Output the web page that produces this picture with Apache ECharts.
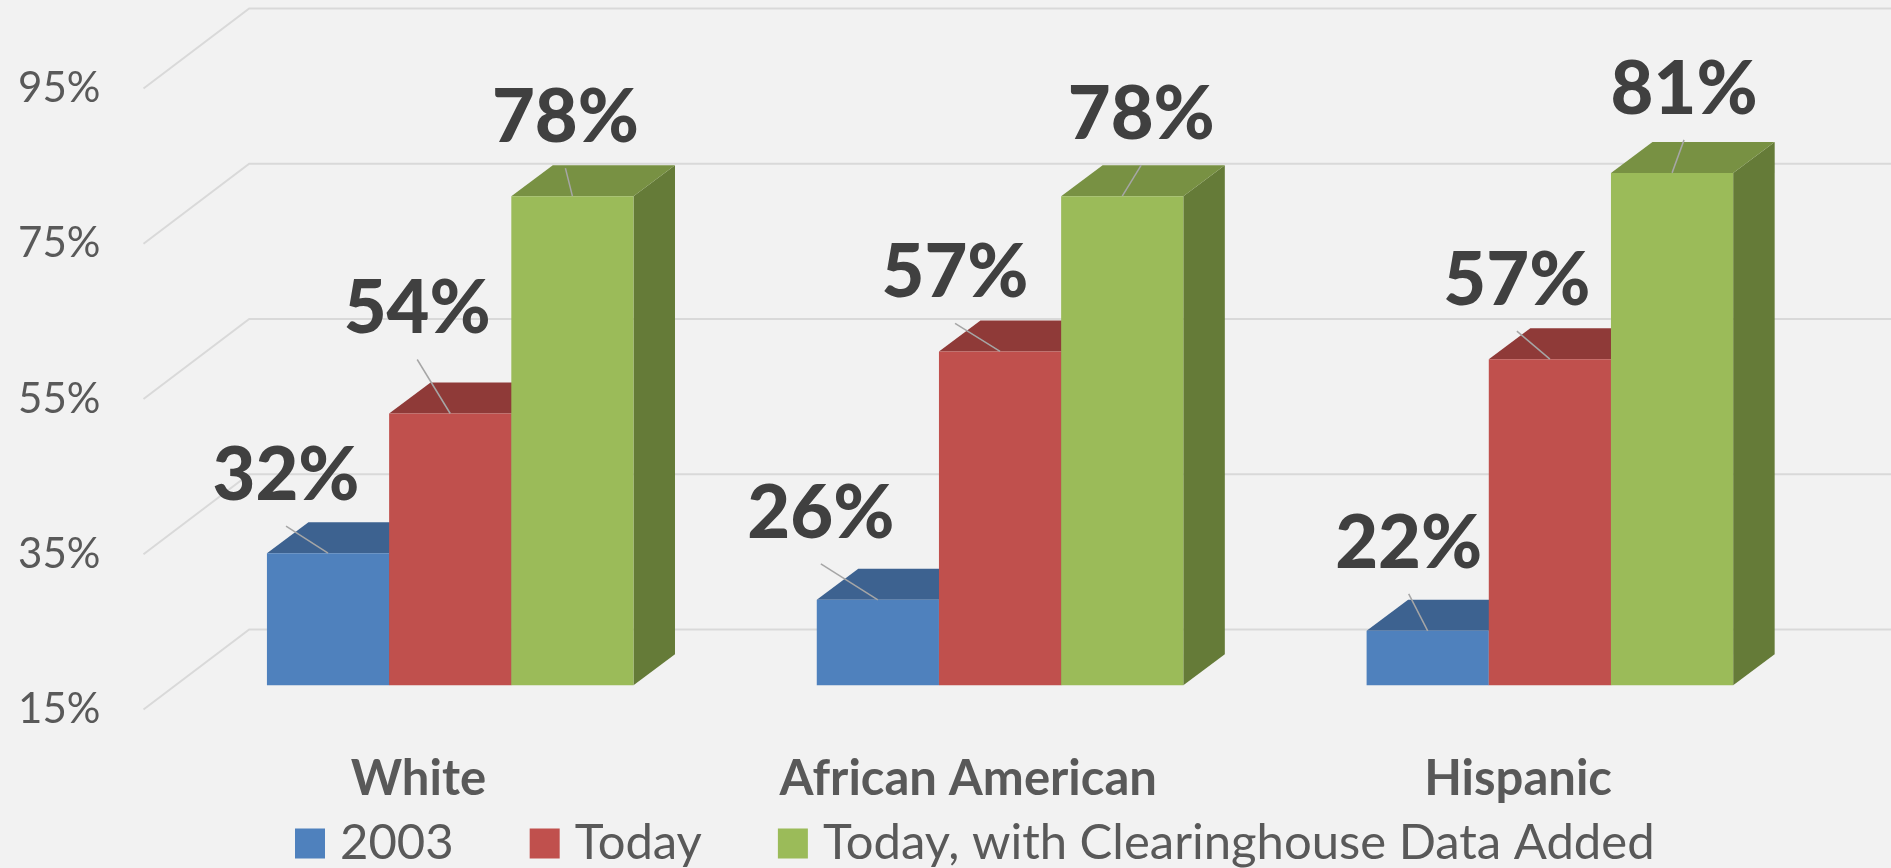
<!DOCTYPE html>
<html>
<head>
<meta charset="utf-8">
<style>html,body{margin:0;padding:0;background:#f2f2f2;overflow:hidden}#chart{width:1891px;height:868px}</style>
<script src="https://cdn.jsdelivr.net/npm/echarts@6/dist/echarts.min.js"></script>
</head>
<body>
<div id="chart"></div>
<script>
// Data
const categories = ['White', 'African American', 'Hispanic'];
const seriesNames = ['2003', 'Today', 'Today, with Clearinghouse Data Added'];
// Heights as drawn in the picture
const values2003 = [32, 26, 22];
const valuesToday = [50, 58, 57];
const valuesTodayPlus = [78, 78, 81];
// Texts as printed above the bars
const labels2003 = ['32%', '26%', '22%'];
const labelsToday = ['54%', '57%', '57%'];
const labelsTodayPlus = ['78%', '78%', '81%'];
const tickValues = [15, 35, 55, 75, 95];

// Styling and layout
const FONT = 'Lato, "Open Sans", sans-serif';
const faces = [
  {front: '#4f81bd', top: '#3d6290', side: '#35567e'},
  {front: '#c0504d', top: '#8f3a38', side: '#7e3331'},
  {front: '#9bbb59', top: '#789143', side: '#657b38'}
];
const valuesBySeries = [values2003, valuesToday, valuesTodayPlus];
const labelsBySeries = [labels2003, labelsToday, labelsTodayPlus];
// manual label placement (px from the centre of the bar's front top edge)
const labelNudge = [
  [[-42, -80], [-57, -89], [-19, -90]],
  [[-33, -107], [-45, -81], [-33, -81]],
  [[-7, -81], [19, -84], [12, -86]]
];
const WALL = {dx: 105.7, dy: -80};
const PLANE = {dx: 31.8, dy: -24.3};
const DEPTH = {dx: 41.5, dy: -31};
const LEADER_GAP = 53;
const LABEL_DROP = 3;

function wallItem(params, api) {
  const y = api.coord([0, api.value(1)])[1];
  const left = params.coordSys.x;
  const right = params.coordSys.x + params.coordSys.width;
  return {
    type: 'polyline',
    shape: {points: [[left, y], [left + WALL.dx, y + WALL.dy], [right + WALL.dx, y + WALL.dy]]},
    style: {fill: null, stroke: '#d9d9d9', lineWidth: 2}
  };
}

function barRenderer(s) {
  return function (params, api) {
    const cat = api.value(0);
    const top = api.coord([cat, api.value(1)]);
    const base = api.coord([cat, 15]);
    const bw = api.size([1, 0])[0] * 2 / 9;
    const cx = top[0] + (s - 1) * bw + PLANE.dx;
    const x0 = cx - bw / 2, x1 = cx + bw / 2;
    const yT = top[1] + PLANE.dy, yB = base[1] + PLANE.dy;
    const f = faces[s];
    const n = labelNudge[s][cat];
    return {
      type: 'group',
      children: [
        {type: 'polygon', shape: {points: [[x1, yT], [x1 + DEPTH.dx, yT + DEPTH.dy], [x1 + DEPTH.dx, yB + DEPTH.dy], [x1, yB]]}, style: {fill: f.side}},
        {type: 'polygon', shape: {points: [[x0, yT], [x0 + DEPTH.dx, yT + DEPTH.dy], [x1 + DEPTH.dx, yT + DEPTH.dy], [x1, yT]]}, style: {fill: f.top}},
        {type: 'rect', shape: {x: x0, y: yT, width: bw, height: yB - yT}, style: {fill: f.front}},
        {type: 'line', shape: {x1: cx, y1: yT, x2: cx + n[0], y2: yT + n[1] + LEADER_GAP}, style: {stroke: '#a6a6a6', lineWidth: 1.5}},
        {type: 'text', style: {text: labelsBySeries[s][cat], x: cx + n[0], y: yT + n[1] + LABEL_DROP, align: 'center', verticalAlign: 'middle', font: '900 74px ' + FONT, fill: '#404040'}}
      ]
    };
  };
}

const chart = echarts.init(document.getElementById('chart'), null, {renderer: 'canvas'});
chart.setOption({
  animation: false,
  backgroundColor: '#f2f2f2',
  grid: {left: 143.5, right: 98, top: 88.5, bottom: 158.5, containLabel: false},
  xAxis: {
    type: 'category',
    data: categories,
    axisLine: {show: false},
    axisTick: {show: false},
    axisLabel: {margin: 45, fontFamily: FONT, fontWeight: 'bold', fontSize: 49, color: '#595959', interval: 0}
  },
  yAxis: {
    type: 'value',
    min: 15,
    max: 95,
    interval: 5,
    axisLine: {show: false},
    axisTick: {show: false},
    splitLine: {show: false},
    axisLabel: {customValues: tickValues, formatter: v => v + '%', margin: 43, fontFamily: FONT, fontSize: 42, color: '#595959', padding: [10, 0, 0, 0]}
  },
  legend: {
    left: 290,
    top: 814,
    icon: 'rect',
    itemWidth: 30,
    itemHeight: 30,
    itemGap: 76,
    data: seriesNames,
    textStyle: {fontFamily: FONT, fontSize: 49, color: '#595959', padding: [0, 0, 0, 10]}
  },
  series: [
    {
      type: 'custom',
      silent: true,
      z: 1,
      renderItem: wallItem,
      data: tickValues.map(v => [0, v]),
      encode: {x: 0, y: 1}
    }
  ].concat(seriesNames.map((name, s) => ({
    type: 'custom',
    name,
    z: 2 + s,
    itemStyle: {color: faces[s].front},
    renderItem: barRenderer(s),
    data: valuesBySeries[s].map((v, i) => [i, v]),
    encode: {x: 0, y: 1}
  })))
});
</script>
</body>
</html>
